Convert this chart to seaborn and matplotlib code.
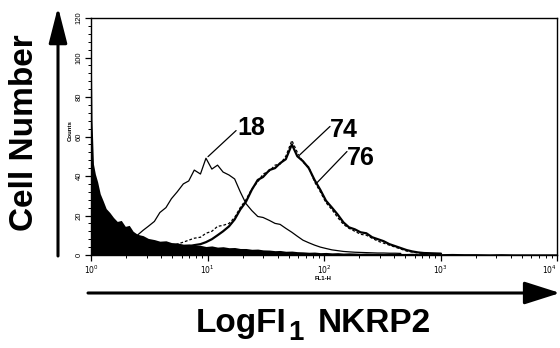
import numpy as np
import pandas as pd
import matplotlib
matplotlib.use("Agg")
import matplotlib.pyplot as plt
from matplotlib.ticker import MultipleLocator, LogLocator, NullFormatter
import seaborn as sns

# ---------------- data ----------------
channel = [1.00, 1.02, 1.05, 1.09, 1.14, 1.20, 1.27, 1.35, 1.45, 1.56,
           1.68, 1.82, 1.97, 2.13, 2.3, 2.5, 2.8, 3.1, 3.5, 3.9,
           4.4, 4.9, 5.5, 6.2, 6.9, 7.7, 8.7, 9.7, 10.9, 12.2,
           13.6, 15.3, 17.1, 19.1, 21.4, 24, 27, 30, 34, 38,
           42, 47, 53, 59, 66, 74, 83, 93, 104, 117,
           131, 147, 164, 184, 206, 231, 259, 290, 325, 364,
           408, 457, 512, 573, 642, 719, 805, 902, 1010, 1250,
           1600, 2000, 2600, 3300, 4200, 5500, 7000, 8800, 10000]

control = [115, 68, 46, 41, 37, 31, 27.5, 23.5, 21.5, 19,
           17, 17.5, 14.5, 15, 12, 10.5, 9.8, 8.4, 7.8, 7.0,
           7.2, 6.3, 6.1, 5.5, 5.6, 5.0, 4.9, 4.3, 4.6, 4.0,
           4.2, 3.7, 3.8, 3.3, 3.3, 2.9, 3.0, 2.6, 2.5, 2.2,
           2.3, 1.9, 2.0, 1.7, 1.6, 1.4, 1.5, 1.2, 1.3, 1.1,
           1.2, 1.0, 1.1, 1.0, 0.9, 1.0, 0.9, 0.9, 0.8, 0.9,
           0.8, 0.8, 0.8, 0.9, 0.7, 0.8, 0.7, 0.8, 0.7, 0.8,
           0.7, 0.7, 0.6, 0.7, 0.6, 0.6, 0.6, 0.6, 0.6]

start_18 = 14
counts_18 = [8, 10, 12.5, 14.5, 17, 21.5, 24, 28.5, 32, 36,
             37.5, 43, 41, 49, 43.5, 45.5, 42, 40.5, 38.5, 32,
             26, 22.5, 19.5, 19, 17.5, 16, 15.5, 13.5, 11.5, 9.5,
             7.5, 6.2, 5, 4, 3.3, 2.6, 2.2, 1.8, 1.6, 1.4,
             1.3, 1.2, 1.1, 1.0, 1.0, 0.9, 0.9, 0.8]

start_74 = 21
counts_74 = [4.5, 5.5, 6.5, 7.5, 8.5, 9, 11, 12, 14.5, 15,
             16, 19, 24, 28, 33.5, 37, 41, 42.5, 45.5, 46,
             50, 58, 52, 47, 44.5, 37, 32, 26.5, 23, 19,
             15.5, 13.5, 12, 10.5, 10, 8.5, 7, 6, 5, 4,
             3, 2, 1.5, 1.0, 0.8]

start_76 = 24
counts_76 = [4.5, 5, 5.5, 6.5, 8, 10, 12, 14.5, 18, 23,
             27, 33, 38, 39.5, 43, 44, 46.5, 48.5, 56, 50,
             47.5, 44, 38, 33, 27.5, 24, 20.5, 16.5, 14, 13,
             11.5, 11, 9, 8, 7, 5.5, 4.5, 3.5, 2.5, 1.8,
             1.3, 1.0, 0.9, 0.8, 0.7]

labels = ["18", "74", "76"]
label_pos = [(17.9, 61.0), (112.6, 59.5), (157.5, 45.8)]
leader_from = [(10.1, 49.8), (62.2, 50.8), (87.1, 36.6)]
leader_to = [(17.6, 63.0), (112.6, 65.1), (157.5, 52.4)]

y_ticks = [0, 20, 40, 60, 80, 100, 120]
x_ticks = [1, 10, 100, 1000, 10000]
x_tick_labels = [r"$10^0$", r"$10^1$", r"$10^2$", r"$10^3$", r"$10^4$"]

# ---------------- style ----------------
sns.set_style("ticks")
plt.rcParams['font.family'] = ['Liberation Sans', 'DejaVu Sans']
plt.rcParams['axes.linewidth'] = 1.0
for key in ['text.color', 'axes.labelcolor', 'xtick.color', 'ytick.color', 'axes.edgecolor']:
    plt.rcParams[key] = 'black'

fig = plt.figure(figsize=(5.6, 3.48), dpi=100)
ax = fig.add_axes([91 / 560, 1 - 255 / 348, (557 - 91) / 560, (255 - 18) / 348])

def frame(start, vals):
    return pd.DataFrame({"channel": channel[start:start + len(vals)], "counts": vals})

ax.fill_between(channel, 0, control, color="black", lw=0, zorder=3)
sns.lineplot(data=frame(start_18, counts_18), x="channel", y="counts", ax=ax,
             color="black", lw=0.9, estimator=None, zorder=2)
sns.lineplot(data=frame(start_74, counts_74), x="channel", y="counts", ax=ax,
             color="black", lw=0.9, dashes=False, estimator=None, zorder=2,
             linestyle=(0, (2.2, 1.6)))
sns.lineplot(data=frame(start_76, counts_76), x="channel", y="counts", ax=ax,
             color="black", lw=1.6, estimator=None, zorder=2)

ax.set_xscale("log")
ax.set_xlim(1, 10000)
ax.set_ylim(0, 120)
ax.set_xlabel("")
ax.set_ylabel("")
ax.set_yticks(y_ticks)
ax.yaxis.set_minor_locator(MultipleLocator(4))
ax.set_xticks(x_ticks, x_tick_labels)
ax.xaxis.set_minor_locator(LogLocator(base=10, subs=np.arange(2, 10), numticks=20))
ax.xaxis.set_minor_formatter(NullFormatter())
for s in ax.spines.values():
    s.set_visible(True)
    s.set_color("black")
ax.tick_params(axis="both", which="major", length=4, width=0.9, labelsize=5.5,
               color="black", labelcolor="black", pad=2)
ax.tick_params(axis="both", which="minor", length=2.5, width=0.7, color="black")
for lab in ax.get_yticklabels():
    lab.set_rotation(90)
    lab.set_va("center")
ax.get_xticklabels()[-1].set_ha("right")

# small instrument labels
fig.text(70 / 560, 1 - 131 / 348, "Counts", rotation=90, fontsize=4.3,
         fontweight="bold", ha="center", va="center")
fig.text(323 / 560, 1 - 278 / 348, "FL1-H", fontsize=4.3, fontweight="bold",
         ha="center", va="center")

# curve labels with leader lines
for lab, pos, p0, p1 in zip(labels, label_pos, leader_from, leader_to):
    ax.annotate("", xy=p1, xytext=p0,
                arrowprops=dict(arrowstyle="-", lw=0.9, color="black",
                                shrinkA=0, shrinkB=0), zorder=5)
    ax.text(pos[0], pos[1], lab, fontsize=18, fontweight="bold", ha="left",
            va="baseline", zorder=6)

# big axis titles with arrows
fig.text(25 / 560, 1 - 133 / 348, "Cell Number", rotation=90, fontsize=24,
         fontweight="bold", ha="center", va="center")
ax.annotate("", xy=(58, 348 - 7), xytext=(58, 348 - 256),
            xycoords="figure pixels", textcoords="figure pixels",
            arrowprops=dict(arrowstyle="-|>,head_length=1.1,head_width=0.28",
                            lw=2.2, color="black", mutation_scale=20,
                            shrinkA=0, shrinkB=0),
            annotation_clip=False)
ax.annotate("", xy=(560, 348 - 293), xytext=(88, 348 - 293),
            xycoords="figure pixels", textcoords="figure pixels",
            arrowprops=dict(arrowstyle="-|>,head_length=1.1,head_width=0.35",
                            lw=2.2, color="black", mutation_scale=20,
                            shrinkA=0, shrinkB=0),
            annotation_clip=False)

base_y = 1 - 332 / 348
fig.text(286 / 560, base_y, "LogFI", fontsize=24, fontweight="bold",
         ha="right", va="baseline")
fig.text(288 / 560, 1 - 340 / 348, "1", fontsize=20, fontweight="bold",
         ha="left", va="baseline")
fig.text(318 / 560, base_y, "NKRP2", fontsize=24, fontweight="bold",
         ha="left", va="baseline")

fig.savefig("out.png", dpi=100)
